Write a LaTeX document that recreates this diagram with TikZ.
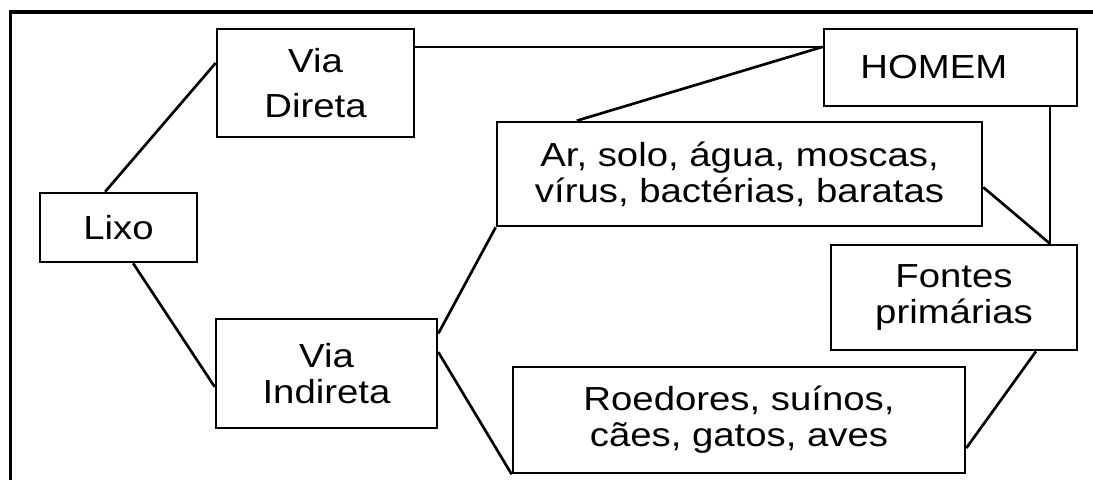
\documentclass[tikz,border=0pt]{standalone}
\usepackage{fontspec}
\setmainfont{Liberation Sans}[FakeStretch=1.15]

\begin{document}
\begin{tikzpicture}[x=0.75pt,y=-0.75pt, every node/.style={font=\fontsize{25}{27}\selectfont}, box/.style={draw,line width=2pt,align=center,inner sep=0pt}, link/.style={line width=2pt}]
\useasboundingbox (0,0) rectangle (1093,480);
\draw[line width=2.3pt] (10.5,480) -- (10.5,12) -- (1093,12);
\node[box,minimum width=117.75pt,minimum height=51.75pt] (lixo) at (118.5,227.5) {Lixo};
\node[box,minimum width=147.75pt,minimum height=81pt] (direta) at (315.5,83) {Via\\[7pt]Direta};
\node[box,minimum width=165.75pt,minimum height=81.75pt] (indireta) at (326.5,373.5) {Via\\Indireta};
\node[box,minimum width=189.75pt,minimum height=57.75pt] (homem) at (950.5,67.5) {HOMEM\hspace*{25pt}};
\node[box,minimum width=363.75pt,minimum height=78pt] (ar) at (739.5,174) {Ar, solo, água, moscas,\\vírus, bactérias, baratas};
\node[box,minimum width=184.5pt,minimum height=78.75pt] (fontes) at (954,297.5) {Fontes\\primárias};
\node[box,minimum width=339pt,minimum height=79.5pt] (roedores) at (739,420) {Roedores, suínos,\\cães, gatos, aves};
\coordinate (hm) at ([yshift=15.5pt]homem.west);
\coordinate (ft) at ([xshift=72pt]fontes.north);
\draw[link] ([xshift=-10pt]lixo.north) -- ([yshift=15pt]direta.west); \draw[link] ([xshift=11pt]lixo.south) -- ([yshift=-10pt]indireta.west);
\draw[link] (direta.east |- hm) -- (hm); \draw[link] (hm) -- ([xshift=-122pt]ar.north);
\draw[link] ([yshift=30pt]indireta.east) -- (ar.south west); \draw[link] ([yshift=16pt]indireta.east) -- (roedores.south west);
\draw[link] ([yshift=-10pt]ar.east) -- (ft); \draw[link] (homem.south -| ft) -- (ft);
\draw[link] ([xshift=61.5pt]fontes.south) -- ([yshift=-21pt]roedores.east);
\end{tikzpicture}
\end{document}
